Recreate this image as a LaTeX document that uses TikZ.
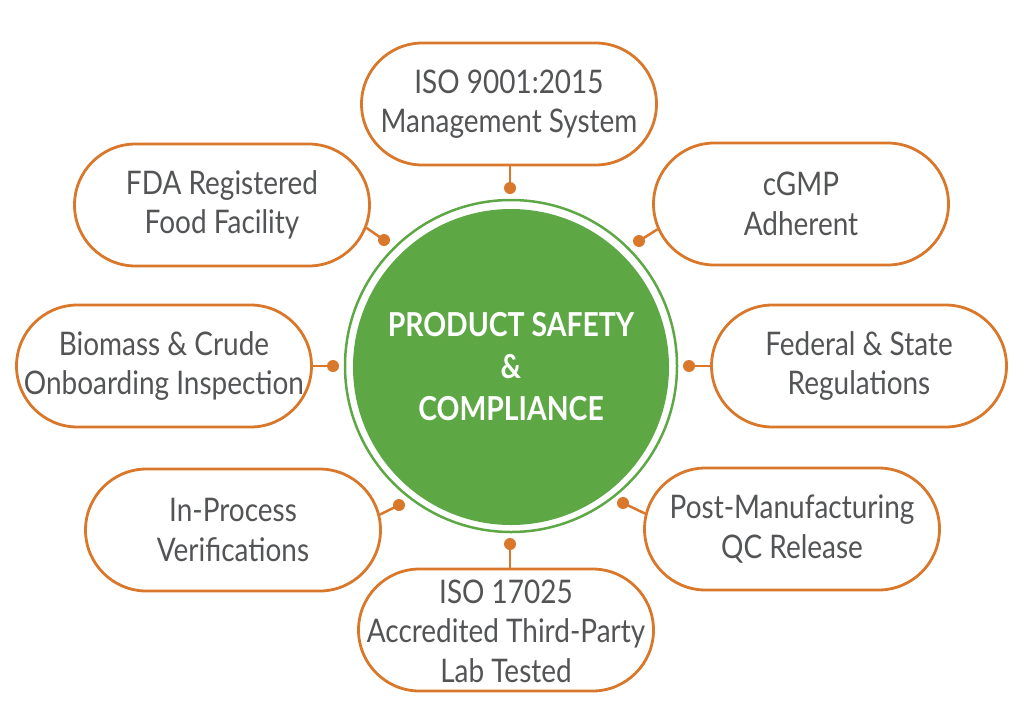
\documentclass[tikz,border=0pt]{standalone}
\usepackage{fontspec}
\setmainfont{Lato}[FakeStretch=0.86]
\usetikzlibrary{shapes.misc}
\definecolor{orng}{HTML}{D9782A}
\definecolor{grn}{HTML}{5DA845}
\definecolor{txt}{HTML}{535456}
\tikzset{
  pill/.style={rounded rectangle, draw=orng, line width=2.8pt, fill=white,
    minimum width=295pt, minimum height=122pt, inner sep=0pt},
  pilltext/.style={text=txt, align=center, inner sep=0pt,
    font=\fontsize{32.5}{39.5}\selectfont},
  dotnode/.style={circle, fill=orng, inner sep=0pt, minimum size=12pt},
  link/.style={draw=orng, line width=2.5pt},
}
\begin{document}
\begin{tikzpicture}[x=1pt,y=-1pt]
\useasboundingbox (0,0) rectangle (1024,726);
% center
\node[circle, draw=grn, line width=2.5pt, minimum size=332pt, inner sep=0pt] (ring) at (511,366) {};
\node[circle, fill=grn, minimum size=316pt, inner sep=0pt, text=white, align=center,
  font=\bfseries\fontsize{33}{42}\selectfont] (core) at (511,367) {PRODUCT SAFETY\\\&\\COMPLIANCE};
% pills
\node[pill] (iso9) at (509,104) {};
\node[pill] (fda) at (222,205) {};
\node[pill] (cgmp) at (801,204) {};
\node[pill] (bio) at (164,366) {};
\node[pill] (fed) at (859,366) {};
\node[pill] (inp) at (233,530) {};
\node[pill] (post) at (792,529) {};
\node[pill] (iso17) at (506,630) {};
% pill texts
\node[pilltext] (iso9t) at (iso9) {ISO 9001:2015\\Management System};
\node[pilltext] (fdat) at (fda) {FDA Registered\\Food Facility};
\node[pilltext] (cgmpt) at (cgmp) {cGMP\\Adherent};
\node[pilltext] (biot) at (bio) {Biomass \& Crude\\Onboarding Inspection};
\node[pilltext] (fedt) at (fed) {Federal \& State\\Regulations};
\node[pilltext] (inpt) at (inp) {In-Process\\Verifications};
\node[pilltext] (postt) at (post) {Post-Manufacturing\\QC Release};
\node[pilltext] (iso17t) at ([yshift=-1pt]iso17) {ISO 17025\\Accredited Third-Party\\Lab Tested};
% dots
\node[dotnode] (d1) at (510,188) {};
\node[dotnode] (d2) at (384,240) {};
\node[dotnode] (d3) at (639,241) {};
\node[dotnode] (d4) at (333,366) {};
\node[dotnode] (d5) at (689,366) {};
\node[dotnode] (d6) at (399,505) {};
\node[dotnode] (d7) at (623,503) {};
\node[dotnode] (d8) at (510,544) {};
% links
\draw[link] (d1.center) -- (iso9.south -| d1);
\draw[link] (d2.center) -- (fda.-9);
\draw[link] (d3.center) -- (cgmp.-170);
\draw[link] (d4.center) -- (bio.east);
\draw[link] (d5.center) -- (fed.west);
\draw[link] (d6.center) -- (inp.6);
\draw[link] (d7.center) -- (post.174);
\draw[link] (d8.center) -- (iso17.north -| d8);
\end{tikzpicture}
\end{document}
